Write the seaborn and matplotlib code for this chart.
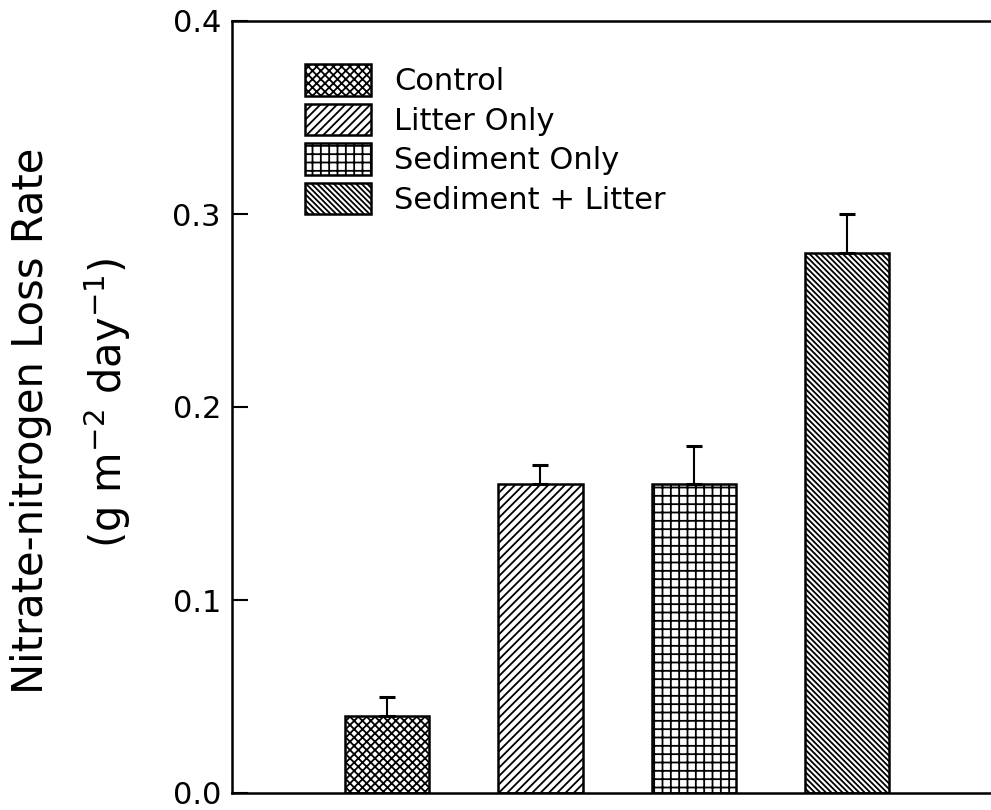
import matplotlib
matplotlib.use("Agg")
import matplotlib.pyplot as plt
import seaborn as sns
import pandas as pd
from matplotlib.patches import Patch

treatments = ["Control", "Litter Only", "Sediment Only", "Sediment + Litter"]
rates = [0.04, 0.16, 0.16, 0.28]
errors = [0.01, 0.01, 0.02, 0.02]
hatches = ["xxxx", "////", "++", "\\\\\\\\\\\\"]
y_ticks = [0.0, 0.1, 0.2, 0.3, 0.4]
y_ticklabels = ["0.0", "0.1", "0.2", "0.3", "0.4"]

sns.set_theme(style="white")
plt.rcParams["font.family"] = ["DejaVu Sans"]
plt.rcParams["text.color"] = "black"
plt.rcParams["axes.labelcolor"] = "black"
plt.rcParams["xtick.color"] = "black"
plt.rcParams["ytick.color"] = "black"
plt.rcParams["hatch.linewidth"] = 1.3
plt.rcParams["hatch.color"] = "black"

df = pd.DataFrame({"treatment": treatments, "rate": rates})

fig = plt.figure(figsize=(9.91, 8.10), dpi=100)
ax = fig.add_axes([232 / 991, 1 - 793 / 810, 758 / 991, 772 / 810])

sns.barplot(data=df, x="treatment", y="rate", hue="treatment",
            palette=["white"] * 4, width=0.55, edgecolor="black",
            linewidth=1.8, legend=False, ax=ax, errorbar=None, dodge=False)

for patch, h in zip(ax.patches, hatches):
    patch.set_hatch(h)
    patch.set_facecolor("white")
    patch.set_edgecolor("black")

ax.errorbar(range(len(treatments)), rates,
            yerr=[[0] * len(errors), errors], fmt="none",
            ecolor="black", elinewidth=1.5, capsize=6, capthick=2.2, zorder=1)

ax.set_xlim(-1.01, 3.93)
ax.set_ylim(0, 0.4)
ax.set_yticks(y_ticks)
ax.set_yticklabels(y_ticklabels)
ax.set_xticks([])
ax.set_xlabel("")
ax.set_ylabel("")
ax.tick_params(axis="y", direction="in", length=11.5, width=1.5,
               labelsize=22, pad=8, left=True, colors="black")
for s in ["left", "bottom", "top"]:
    ax.spines[s].set_visible(True)
    ax.spines[s].set_linewidth(1.8)
    ax.spines[s].set_color("black")
ax.spines["right"].set_visible(False)

handles = [Patch(facecolor="white", edgecolor="black", hatch=h, linewidth=1.8)
           for h in hatches]
ax.legend(handles, treatments, loc="upper left",
          bbox_to_anchor=(0.080, 0.960), frameon=False, fontsize=22,
          handlelength=2.16, handleheight=1.22, labelspacing=0.24,
          handletextpad=0.75, borderaxespad=0, labelcolor="black")

fig.text(0.031, 0.48, "Nitrate-nitrogen Loss Rate", rotation=90,
         fontsize=30, ha="center", va="center", color="black")
fig.text(0.108, 0.502, r"(g m$^{\mathregular{-2}}$ day$^{\mathregular{-1}}$)",
         rotation=90, fontsize=30, ha="center", va="center", color="black")

fig.savefig("out.png", dpi=100)
